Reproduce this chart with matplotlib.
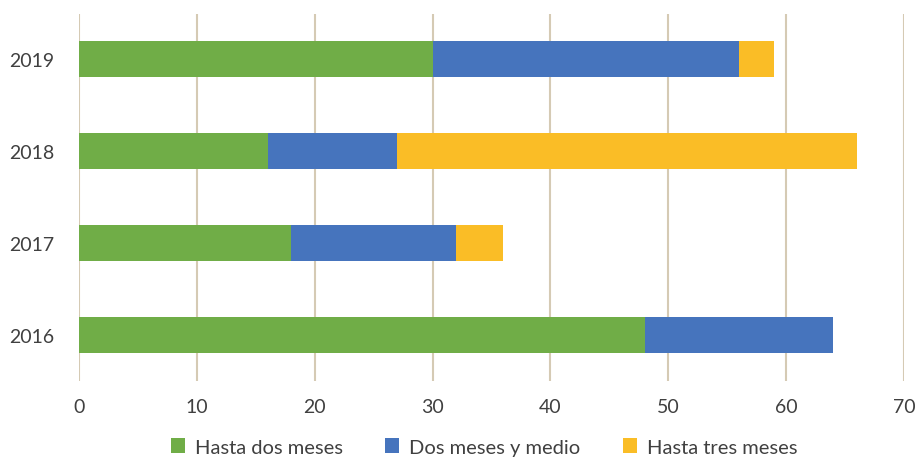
import matplotlib.pyplot as plt
import numpy as np

years = ['2016', '2017', '2018', '2019']
hasta_dos = [48, 18, 16, 30]
dos_y_medio = [16, 14, 11, 26]
hasta_tres = [0, 4, 39, 3]

labels = ['Hasta dos meses', 'Dos meses y medio', 'Hasta tres meses']
colors = ['#70AD47', '#4674BD', '#FABD26']

plt.rcParams['font.family'] = ['Lato', 'DejaVu Sans']

fig = plt.figure(figsize=(9.17, 4.6), dpi=100)
ax = fig.add_axes([0.0861, 0.1696, 0.8997, 0.7978])

y = np.arange(len(years))
left = np.zeros(len(years))
for vals, lab, col in zip([hasta_dos, dos_y_medio, hasta_tres], labels, colors):
    ax.barh(y, vals, left=left, height=0.39, color=col, label=lab, zorder=3)
    left += np.array(vals)

ax.set_xlim(0, 70)
ax.set_ylim(-0.50, 3.49)
ax.set_xticks(range(0, 71, 10))
ax.set_yticks(y)
ax.set_yticklabels(years)
ax.grid(axis='x', color='#d5cab4', linewidth=1.5, zorder=0)
for s in ax.spines.values():
    s.set_visible(False)
ax.tick_params(length=0, labelsize=14, colors='#404040')
ax.tick_params(axis='x', pad=12)
ax.tick_params(axis='y', pad=18)

ax.legend(loc='center', bbox_to_anchor=(0.491, -0.18), ncol=3, frameon=False,
          fontsize=14.5, handlelength=0.7, handleheight=0.7, handletextpad=0.5,
          columnspacing=2.1, labelcolor='#404040')

fig.savefig('out.png')
